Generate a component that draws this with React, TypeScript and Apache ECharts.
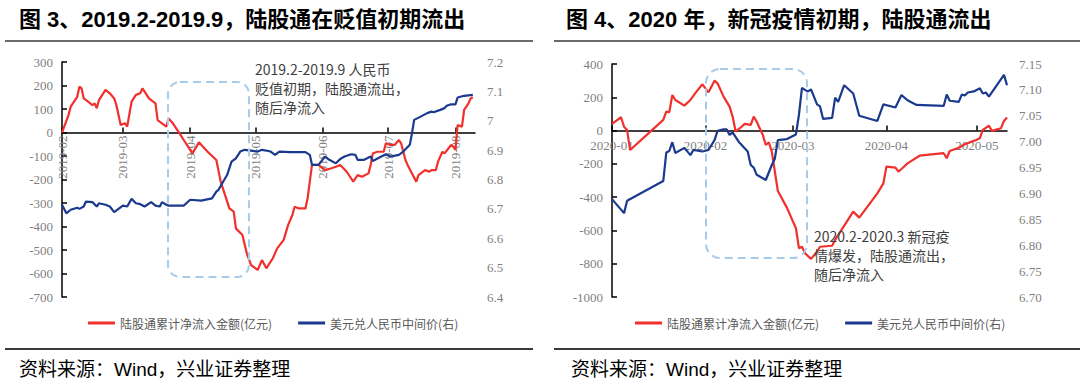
import React, { useEffect, useRef } from 'react';
import * as echarts from 'echarts';

// ---------- data ----------
const seriesFlowName = '陆股通累计净流入金额(亿元)';
const seriesFxName = '美元兑人民币中间价(右)';

const monthTicks2019 = ['2019-02-01', '2019-03-01', '2019-04-01', '2019-05-01', '2019-06-01', '2019-07-01', '2019-08-01'];
const monthTicks2020 = ['2020-01-01', '2020-02-01', '2020-03-01', '2020-04-01', '2020-05-01'];

const flow2019: [string, number][] = [
  ['2019-02-01', 0], ['2019-02-04', 74], ['2019-02-05', 110], ['2019-02-08', 152], ['2019-02-09', 195],
  ['2019-02-10', 188], ['2019-02-11', 145], ['2019-02-13', 131], ['2019-02-15', 117], ['2019-02-16', 124],
  ['2019-02-17', 103], ['2019-02-18', 138], ['2019-02-21', 181], ['2019-02-23', 167], ['2019-02-25', 145],
  ['2019-02-26', 117], ['2019-02-28', 32], ['2019-03-02', 39], ['2019-03-03', 25], ['2019-03-05', 131],
  ['2019-03-07', 160], ['2019-03-09', 167], ['2019-03-10', 188], ['2019-03-11', 174], ['2019-03-13', 145],
  ['2019-03-16', 124], ['2019-03-17', 53], ['2019-03-19', 39], ['2019-03-21', 25], ['2019-03-22', 60],
  ['2019-03-24', 39], ['2019-03-27', -3], ['2019-03-29', -32], ['2019-04-02', -89], ['2019-04-05', -42],
  ['2019-04-09', -82], ['2019-04-13', -117], ['2019-04-15', -209], ['2019-04-18', -294], ['2019-04-19', -323],
  ['2019-04-21', -337], ['2019-04-22', -408], ['2019-04-25', -436], ['2019-04-27', -514], ['2019-04-29', -564],
  ['2019-05-02', -585], ['2019-05-04', -543], ['2019-05-06', -578], ['2019-05-09', -535], ['2019-05-11', -493],
  ['2019-05-14', -457], ['2019-05-16', -394], ['2019-05-18', -351], ['2019-05-19', -316], ['2019-05-21', -323],
  ['2019-05-24', -323], ['2019-05-25', -280], ['2019-05-27', -138], ['2019-05-30', -138], ['2019-06-02', -160],
  ['2019-06-05', -152], ['2019-06-07', -146], ['2019-06-09', -138], ['2019-06-12', -167], ['2019-06-15', -209],
  ['2019-06-17', -181], ['2019-06-19', -188], ['2019-06-22', -174], ['2019-06-23', -138], ['2019-06-24', -89],
  ['2019-06-26', -82], ['2019-06-29', -82], ['2019-06-30', -46], ['2019-07-02', -53], ['2019-07-04', -53],
  ['2019-07-06', -32], ['2019-07-07', -46], ['2019-07-09', -117], ['2019-07-10', -138], ['2019-07-12', -174],
  ['2019-07-14', -209], ['2019-07-15', -181], ['2019-07-18', -160], ['2019-07-20', -167], ['2019-07-21', -160],
  ['2019-07-23', -160], ['2019-07-24', -124], ['2019-07-26', -82], ['2019-07-27', -89], ['2019-07-30', -53],
  ['2019-07-31', -60], ['2019-08-01', -74], ['2019-08-02', 32], ['2019-08-04', 25], ['2019-08-05', 96],
  ['2019-08-07', 124], ['2019-08-08', 145], ['2019-08-09', 150],
];

const fx2019: [string, number][] = [
  ['2019-02-01', 6.714], ['2019-02-03', 6.685], ['2019-02-05', 6.697], ['2019-02-08', 6.704], ['2019-02-09', 6.7],
  ['2019-02-11', 6.708], ['2019-02-12', 6.725], ['2019-02-15', 6.723], ['2019-02-17', 6.708], ['2019-02-18', 6.719],
  ['2019-02-21', 6.714], ['2019-02-23', 6.708], ['2019-02-25', 6.689], ['2019-02-27', 6.7], ['2019-03-01', 6.711],
  ['2019-03-03', 6.708], ['2019-03-05', 6.734], ['2019-03-07', 6.719], ['2019-03-09', 6.716], ['2019-03-11', 6.708],
  ['2019-03-14', 6.723], ['2019-03-16', 6.711], ['2019-03-18', 6.708], ['2019-03-19', 6.723], ['2019-03-21', 6.714],
  ['2019-03-22', 6.711], ['2019-03-29', 6.711], ['2019-04-01', 6.731], ['2019-04-06', 6.728], ['2019-04-11', 6.736],
  ['2019-04-13', 6.759], ['2019-04-14', 6.765], ['2019-04-18', 6.816], ['2019-04-20', 6.861], ['2019-04-22', 6.872],
  ['2019-04-24', 6.895], ['2019-04-26', 6.901], ['2019-04-29', 6.898], ['2019-05-02', 6.895], ['2019-05-04', 6.901],
  ['2019-05-07', 6.897], ['2019-05-08', 6.895], ['2019-05-10', 6.884], ['2019-05-12', 6.895], ['2019-05-17', 6.893],
  ['2019-05-24', 6.893], ['2019-05-26', 6.884], ['2019-05-27', 6.85], ['2019-05-30', 6.85], ['2019-06-02', 6.878],
  ['2019-06-04', 6.867], ['2019-06-07', 6.855], ['2019-06-09', 6.87], ['2019-06-11', 6.878], ['2019-06-14', 6.886],
  ['2019-06-16', 6.884], ['2019-06-17', 6.867], ['2019-06-20', 6.867], ['2019-06-23', 6.878], ['2019-06-24', 6.863],
  ['2019-06-27', 6.875], ['2019-06-30', 6.886], ['2019-07-02', 6.878], ['2019-07-06', 6.884], ['2019-07-08', 6.895],
  ['2019-07-11', 6.918], ['2019-07-12', 6.957], ['2019-07-13', 7.003], ['2019-07-16', 7.014], ['2019-07-19', 7.026],
  ['2019-07-21', 7.031], ['2019-07-22', 7.029], ['2019-07-25', 7.037], ['2019-07-27', 7.043], ['2019-07-28', 7.051],
  ['2019-07-30', 7.056], ['2019-08-01', 7.056], ['2019-08-02', 7.079], ['2019-08-05', 7.085], ['2019-08-09', 7.088],
];

const flow2020: [string, number][] = [
  ['2020-01-01', 40], ['2020-01-04', 80], ['2020-01-05', 23], ['2020-01-06', 4], ['2020-01-07', -117],
  ['2020-01-14', -2], ['2020-01-18', 64], ['2020-01-19', 114], ['2020-01-20', 110], ['2020-01-21', 214],
  ['2020-01-22', 184], ['2020-01-25', 150], ['2020-01-27', 184], ['2020-01-29', 234], ['2020-01-31', 278],
  ['2020-02-02', 230], ['2020-02-04', 300], ['2020-02-05', 284], ['2020-02-07', 204], ['2020-02-09', 144],
  ['2020-02-10', 84], ['2020-02-11', -6], ['2020-02-13', 23], ['2020-02-14', 40], ['2020-02-16', 34],
  ['2020-02-17', 84], ['2020-02-18', 53], ['2020-02-20', -26], ['2020-02-21', -87], ['2020-02-22', -70],
  ['2020-02-23', -127], ['2020-02-25', -363], ['2020-02-28', -463], ['2020-03-02', -587], ['2020-03-03', -707],
  ['2020-03-04', -698], ['2020-03-05', -737], ['2020-03-07', -771], ['2020-03-09', -728], ['2020-03-10', -698],
  ['2020-03-14', -692], ['2020-03-15', -657], ['2020-03-21', -487], ['2020-03-23', -523], ['2020-03-29', -377],
  ['2020-03-31', -317], ['2020-04-01', -217], ['2020-04-04', -223], ['2020-04-05', -247], ['2020-04-06', -231],
  ['2020-04-08', -197], ['2020-04-12', -151], ['2020-04-20', -136], ['2020-04-21', -166], ['2020-04-22', -123],
  ['2020-04-25', -103], ['2020-04-27', -82], ['2020-04-30', -62], ['2020-05-02', -46], ['2020-05-03', 4],
  ['2020-05-05', 29], ['2020-05-06', -2], ['2020-05-09', 14], ['2020-05-10', 58], ['2020-05-11', 78],
];

const fx2020: [string, number][] = [
  ['2020-01-01', 6.889], ['2020-01-05', 6.862], ['2020-01-06', 6.886], ['2020-01-18', 6.924], ['2020-01-19', 6.979],
  ['2020-01-20', 6.982], ['2020-01-21', 6.999], ['2020-01-22', 6.978], ['2020-01-25', 6.988], ['2020-01-27', 6.974],
  ['2020-01-28', 6.984], ['2020-01-31', 6.981], ['2020-02-02', 6.984], ['2020-02-04', 7.003], ['2020-02-05', 7.021],
  ['2020-02-07', 7.024], ['2020-02-08', 7.024], ['2020-02-09', 7.013], ['2020-02-10', 7.018], ['2020-02-12', 7.0],
  ['2020-02-15', 6.981], ['2020-02-16', 6.955], ['2020-02-17', 6.95], ['2020-02-18', 6.936], ['2020-02-21', 6.926],
  ['2020-02-23', 6.955], ['2020-02-24', 6.967], ['2020-02-25', 7.003], ['2020-02-28', 7.005], ['2020-03-02', 7.014],
  ['2020-03-03', 7.052], ['2020-03-04', 7.104], ['2020-03-05', 7.1], ['2020-03-06', 7.097], ['2020-03-07', 7.101],
  ['2020-03-09', 7.072], ['2020-03-10', 7.068], ['2020-03-11', 7.044], ['2020-03-14', 7.046], ['2020-03-15', 7.085],
  ['2020-03-16', 7.077], ['2020-03-18', 7.109], ['2020-03-21', 7.093], ['2020-03-23', 7.05], ['2020-03-29', 7.04],
  ['2020-03-31', 7.072], ['2020-04-04', 7.066], ['2020-04-06', 7.09], ['2020-04-08', 7.08], ['2020-04-11', 7.071],
  ['2020-04-20', 7.069], ['2020-04-21', 7.091], ['2020-04-22', 7.079], ['2020-04-25', 7.077], ['2020-04-26', 7.091],
  ['2020-04-27', 7.089], ['2020-04-28', 7.095], ['2020-04-30', 7.097], ['2020-05-02', 7.103], ['2020-05-03', 7.093],
  ['2020-05-04', 7.095], ['2020-05-05', 7.087], ['2020-05-10', 7.129], ['2020-05-11', 7.109],
];

// ---------- helpers ----------
const ts = (s: string) => {
  const [y, m, d] = s.split('-').map(Number);
  return new Date(y, m - 1, d).getTime();
};
const ym = (v: number) => {
  const d = new Date(v);
  return `${d.getFullYear()}-${String(d.getMonth() + 1).padStart(2, '0')}`;
};
const toData = (arr: [string, number][]) => arr.map(([d, v]) => [ts(d), v]);

const RED = '#f0302c';
const BLUE = '#1b3a8e';
const AXIS_GRAY = '#7f7f7f';
const SERIF = '"Liberation Serif", "Times New Roman", serif';
const CJK = '"Noto Sans CJK SC", sans-serif';

// grid geometry
const G1 = { left: 62, right: 475, top: 62, bottom: 297 };
const G2 = { left: 612, right: 1007, top: 64, bottom: 297 };
const Y1 = { min: -700, max: 300, interval: 100 };
const Y2 = { min: -1000, max: 400, interval: 200 };

export default function App() {
  const ref = useRef<HTMLDivElement>(null);

  useEffect(() => {
    if (!ref.current) return;
    const chart = echarts.init(ref.current, null, { renderer: 'svg' });

    const yLeftCommon = {
      type: 'value',
      position: 'left',
      axisLine: { show: true, lineStyle: { color: '#000', width: 1.5 } },
      axisTick: { show: true, inside: true, length: 5, lineStyle: { color: '#000', width: 1.5 } },
      splitLine: { show: false },
      axisLabel: { color: AXIS_GRAY, fontFamily: SERIF, fontSize: 13, margin: 9, formatter: (v: number) => String(v) },
    };
    const yRightCommon = {
      type: 'value',
      position: 'right',
      axisLine: { show: false },
      axisTick: { show: false },
      splitLine: { show: false },
      axisLabel: { color: AXIS_GRAY, fontFamily: SERIF, fontSize: 13, margin: 12 },
    };

    const titleFont = { fontSize: 22, fontWeight: 'bold', fontFamily: '"Liberation Sans", "Noto Sans CJK SC", sans-serif', fill: '#000' };
    const noteFont = { fontSize: 14, fontFamily: CJK, fill: '#404040', lineHeight: 19 };
    const srcFont = { fontSize: 19, fontFamily: '"Liberation Sans", "Noto Sans CJK SC", sans-serif', fill: '#000' };

    const t19 = monthTicks2019.map(ts);
    const t20 = monthTicks2020.map(ts);

    // offset the x axis from the grid bottom up to the zero line of the left axis
    const h1 = G1.bottom - G1.top;
    const off1 = -(h1 * (0 - Y1.min)) / (Y1.max - Y1.min);
    const h2 = G2.bottom - G2.top;
    const off2 = -(h2 * (0 - Y2.min)) / (Y2.max - Y2.min);

    chart.setOption({
      animation: false,
      backgroundColor: '#fff',
      grid: [
        { left: G1.left, right: 1080 - G1.right, top: G1.top, bottom: 384 - G1.bottom, containLabel: false },
        { left: G2.left, right: 1080 - G2.right, top: G2.top, bottom: 384 - G2.bottom, containLabel: false },
      ],
      xAxis: [
        {
          type: 'value',
          gridIndex: 0,
          position: 'bottom',
          offset: off1,
          min: ts('2019-02-01'),
          max: ts('2019-08-10'),
          axisLine: { show: true, onZero: false, lineStyle: { color: '#000', width: 1.5 } },
          axisTick: { show: true, inside: true, length: 5, customValues: t19, lineStyle: { color: '#000', width: 1.5 } },
          axisLabel: {
            customValues: t19,
            formatter: (v: number) => ym(v),
            rotate: 90,
            margin: 3,
            color: AXIS_GRAY,
            fontFamily: SERIF,
            fontSize: 13,
          },
          splitLine: { show: false },
        },
        {
          type: 'value',
          gridIndex: 1,
          position: 'bottom',
          offset: off2,
          min: ts('2020-01-01'),
          max: ts('2020-05-11'),
          axisLine: { show: true, onZero: false, lineStyle: { color: '#000', width: 1.5 } },
          axisTick: { show: true, inside: true, length: 5, customValues: t20, lineStyle: { color: '#000', width: 1.5 } },
          axisLabel: {
            customValues: t20,
            formatter: (v: number) => ym(v),
            margin: 8,
            color: AXIS_GRAY,
            fontFamily: SERIF,
            fontSize: 13,
          },
          splitLine: { show: false },
        },
      ],
      yAxis: [
        { ...yLeftCommon, gridIndex: 0, ...Y1 },
        { ...yRightCommon, gridIndex: 0, min: 6.4, max: 7.2, interval: 0.1,
          axisLabel: { ...yRightCommon.axisLabel, formatter: (v: number) => String(Math.round(v * 10) / 10) } },
        { ...yLeftCommon, gridIndex: 1, ...Y2 },
        { ...yRightCommon, gridIndex: 1, min: 6.7, max: 7.15, interval: 0.05,
          axisLabel: { ...yRightCommon.axisLabel, formatter: (v: number) => v.toFixed(2) } },
      ],
      legend: [
        {
          left: 83, top: 312, icon: 'rect', itemWidth: 27, itemHeight: 3, itemGap: 26,
          textStyle: { color: '#595959', fontSize: 12, fontFamily: CJK },
          data: [seriesFlowName, seriesFxName],
        },
        {
          left: 630, top: 312, icon: 'rect', itemWidth: 27, itemHeight: 3, itemGap: 26,
          textStyle: { color: '#595959', fontSize: 12, fontFamily: CJK },
          data: [seriesFlowName, seriesFxName],
        },
      ],
      series: [
        { name: seriesFlowName, type: 'line', xAxisIndex: 0, yAxisIndex: 0, data: toData(flow2019), showSymbol: false, symbol: 'none', lineStyle: { color: RED, width: 2.2 }, itemStyle: { color: RED } },
        { name: seriesFxName, type: 'line', xAxisIndex: 0, yAxisIndex: 1, data: toData(fx2019), showSymbol: false, symbol: 'none', lineStyle: { color: BLUE, width: 2.2 }, itemStyle: { color: BLUE } },
        { name: seriesFlowName, type: 'line', xAxisIndex: 1, yAxisIndex: 2, data: toData(flow2020), showSymbol: false, symbol: 'none', lineStyle: { color: RED, width: 2.2 }, itemStyle: { color: RED } },
        { name: seriesFxName, type: 'line', xAxisIndex: 1, yAxisIndex: 3, data: toData(fx2020), showSymbol: false, symbol: 'none', lineStyle: { color: BLUE, width: 2.2 }, itemStyle: { color: BLUE } },
      ],
      graphic: [
        { type: 'text', x: 19, y: 19, style: { ...titleFont, text: '图 3、2019.2-2019.9，陆股通在贬值初期流出', verticalAlign: 'middle' } },
        { type: 'text', x: 566, y: 19, style: { ...titleFont, text: '图 4、2020 年，新冠疫情初期，陆股通流出', verticalAlign: 'middle' } },
        { type: 'line', shape: { x1: 5, y1: 41, x2: 533, y2: 41 }, style: { stroke: '#3a3a3a', lineWidth: 1.5 } },
        { type: 'line', shape: { x1: 554, y1: 41, x2: 1080, y2: 41 }, style: { stroke: '#3a3a3a', lineWidth: 1.5 } },
        { type: 'line', shape: { x1: 5, y1: 349, x2: 533, y2: 349 }, style: { stroke: '#3a3a3a', lineWidth: 2 } },
        { type: 'line', shape: { x1: 554, y1: 349, x2: 1080, y2: 349 }, style: { stroke: '#3a3a3a', lineWidth: 2 } },
        { type: 'text', x: 19, y: 369, style: { ...srcFont, text: '资料来源：Wind，兴业证券整理', verticalAlign: 'middle' } },
        { type: 'text', x: 571, y: 369, style: { ...srcFont, text: '资料来源：Wind，兴业证券整理', verticalAlign: 'middle' } },
        { type: 'rect', z: 10, shape: { x: 168, y: 82, width: 81, height: 195, r: 12 }, style: { fill: 'none', stroke: '#a9cbea', lineWidth: 2, lineDash: [8, 5] } },
        { type: 'rect', z: 10, shape: { x: 706, y: 69, width: 101, height: 189, r: 14 }, style: { fill: 'none', stroke: '#a9cbea', lineWidth: 2, lineDash: [8, 5] } },
        { type: 'text', z: 11, x: 255, y: 59, style: { ...noteFont, text: '2019.2-2019.9 人民币\n贬值初期，陆股通流出，\n随后净流入' } },
        { type: 'text', z: 11, x: 814, y: 226, style: { ...noteFont, text: '2020.2-2020.3 新冠疫\n情爆发，陆股通流出，\n随后净流入' } },
      ],
    });

    return () => chart.dispose();
  }, []);

  return (
    <div
      ref={ref}
      style={{ position: 'fixed', left: 0, top: 0, width: 1080, height: 384, background: '#fff' }}
    />
  );
}
